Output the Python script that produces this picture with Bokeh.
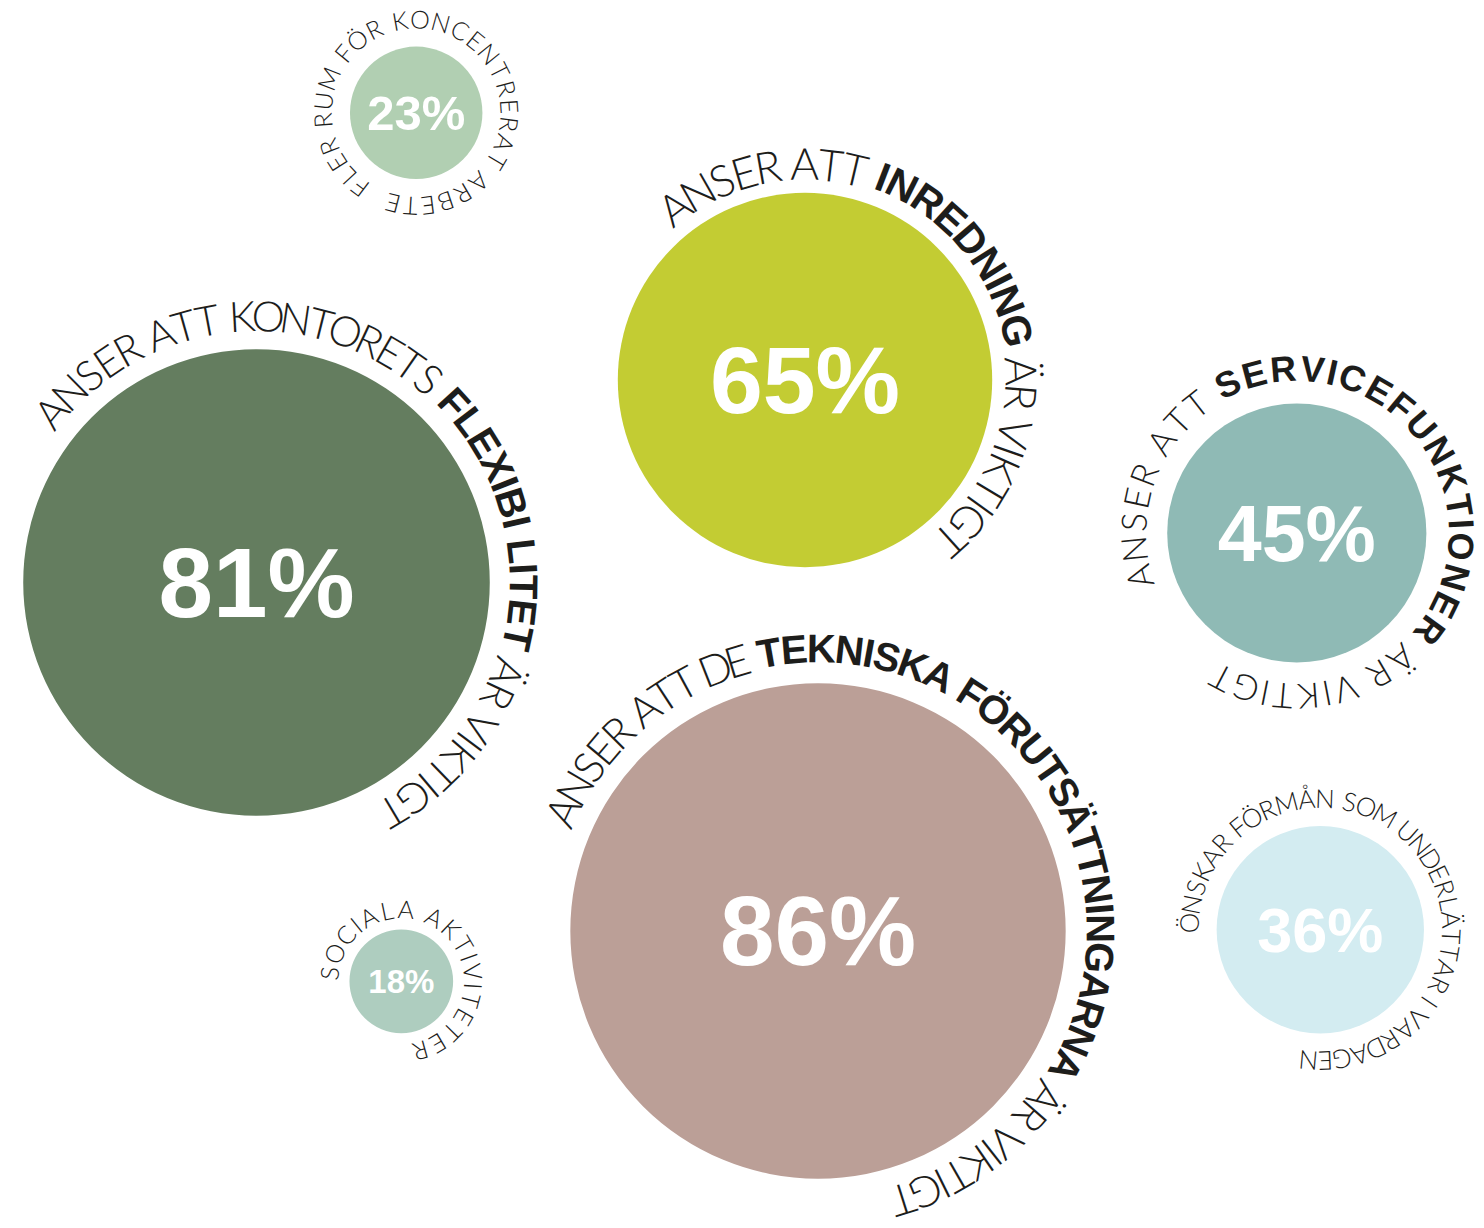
import math
from bokeh.plotting import figure
from bokeh.models import ColumnDataSource, Range1d
from bokeh.core.properties import value
from bokeh.embed import file_html
from bokeh.resources import INLINE

# ---------------- data ----------------
values = [23, 65, 81, 45, 86, 18, 36]
value_labels = ["23%", "65%", "81%", "45%", "86%", "18%", "36%"]
text_pre = ["FLER RUM FÖR KONCENTRERAT ARBETE", "ANSER ATT ", "ANSER ATT KONTORETS ",
            "ANSER ATT ", "ANSER ATT DE ", "SOCIALA AKTIVITETER",
            "ÖNSKAR FÖRMÅN SOM UNDERLÄTTAR I VARDAGEN"]
text_bold = ["", "INREDNING", "FLEXIBI LITET", "SERVICEFUNKTIONER",
             "TEKNISKA FÖRUTSÄTTNINGARNA", "", ""]
text_post = ["", " ÄR VIKTIGT", " ÄR VIKTIGT", " ÄR VIKTIGT", " ÄR VIKTIGT", "", ""]
colors = ["#b1cfb2", "#c3cc33", "#647d5f", "#8fbab5", "#bb9f97", "#aecdbf", "#d3ecf1"]

# ---------------- layout / style ----------------
W, H = 1484, 1228
center_x = [415.7, 804.5, 256.0, 1296.3, 817.5, 400.8, 1319.8]
center_y = [112.3, 379.5, 582.0, 532.5, 930.5, 980.8, 929.2]   # from top
PX_PER_PCT = 2.88
arc_mid_gap = [28, 30, 34, 35, 35, 21, 28]      # bubble edge -> middle of letters
arc_start = [233.0, 127.1, 140.3, 195.6, 154.9, 173.6, 177.1]
arc_end = [-104.5, -47.8, -59.2, -117.5, -72.5, -74.5, -95.2]
arc_font = [25, 44, 42, 35, 43, 25, 26]
bold_font = [0, 41, 40, 36, 40, 0, 0]
pct_font = [49, 95, 98, 79, 98, 33, 63]
TEXT_COLOR = "#1d1d1b"
LIGHT_FONT = "'Lato Light', 'Open Sans Light', 'Roboto Light', 'Noto Sans Light', Roboto"
BOLD_FONT = "'Liberation Sans'"
PCT_FONT = "'Liberation Sans'"

WL = dict(A=.652, B=.623, C=.636, D=.641, E=.553, F=.544, G=.667, H=.696, I=.272,
          K=.626, L=.537, M=.853, N=.696, O=.672, P=.631, R=.614, S=.594, T=.596,
          U=.633, V=.636, X=.628)
WL.update({"Ä": WL["A"], "Å": WL["A"], "Ö": WL["O"], " ": .26})
WB = dict(A=.72, B=.72, C=.72, D=.72, E=.667, F=.611, G=.778, H=.722, I=.278,
          K=.722, L=.611, M=.833, N=.722, O=.778, P=.667, R=.722, S=.667, T=.611,
          U=.722, V=.667, X=.667)
WB.update({"Ä": WB["A"], "Å": WB["A"], "Ö": WB["O"], " ": .278})

p = figure(width=W, height=H, x_range=Range1d(0, W), y_range=Range1d(0, H),
           output_backend="svg", toolbar_location=None,
           x_axis_location=None, y_axis_location=None, min_border=0,
           outline_line_color=None, background_fill_color="white",
           border_fill_color="white")
p.grid.visible = False

radii = [v * PX_PER_PCT for v in values]
cy_data = [H - y for y in center_y]
p.circle(x="x", y="y", radius="r", fill_color="c", line_color=None,
         source=ColumnDataSource(dict(x=center_x, y=cy_data, r=radii, c=colors)))

# percentage labels
for i, lab in enumerate(value_labels):
    fs = pct_font[i]
    p.text(x=[center_x[i]], y=[cy_data[i]], text=[lab],
           text_align="center", text_baseline="middle",
           text_font=value(PCT_FONT), text_font_style="bold",
           text_font_size=value(f"{fs}px"), text_color="white")

# curved labels
for i in range(len(values)):
    chars = [(c, False) for c in text_pre[i]] + [(c, True) for c in text_bold[i]] + \
            [(c, False) for c in text_post[i]]
    widths = [(WB if b else WL).get(c, .6) for c, b in chars]
    pos = []
    acc = 0.0
    for w in widths:
        pos.append(acc + w / 2)
        acc += w
    span = pos[-1] - pos[0]
    R = radii[i] + arc_mid_gap[i]
    a0, a1 = math.radians(arc_start[i]), math.radians(arc_end[i])
    groups = {False: dict(x=[], y=[], t=[], a=[]), True: dict(x=[], y=[], t=[], a=[])}
    for (c, b), ps in zip(chars, pos):
        if c == " ":
            continue
        th = a0 + (a1 - a0) * (ps - pos[0]) / span
        g = groups[b]
        g["x"].append(center_x[i] + R * math.cos(th))
        g["y"].append(cy_data[i] + R * math.sin(th))
        g["t"].append(c)
        g["a"].append(th - math.pi / 2)
    for b, g in groups.items():
        if not g["t"]:
            continue
        fs = bold_font[i] if b else arc_font[i]
        p.text(x="x", y="y", text="t", angle="a", source=ColumnDataSource(g),
               text_align="center", text_baseline="middle",
               text_font=value(BOLD_FONT if b else LIGHT_FONT),
               text_font_style="bold" if b else "normal",
               text_font_size=value(f"{fs}px"), text_color=TEXT_COLOR)

open("out.html", "w").write(file_html(p, INLINE))
